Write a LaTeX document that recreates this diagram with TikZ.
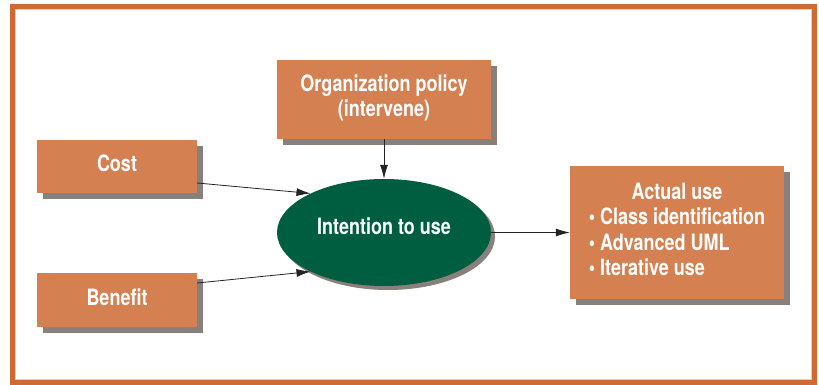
\documentclass[tikz,border=0pt]{standalone}
\usepackage{fontspec}
\setmainfont{TeX Gyre Heros}[FakeStretch=0.8]
\usetikzlibrary{shapes.geometric,arrows.meta,shadows}
\definecolor{boxfill}{RGB}{213,128,81}
\definecolor{shade}{RGB}{135,128,125}
\definecolor{frameorange}{RGB}{207,106,50}
\definecolor{framelight}{RGB}{245,200,175}
\definecolor{ovalgreen}{RGB}{0,94,64}
\definecolor{linegray}{RGB}{35,35,35}
\tikzset{
  boxtext/.style={font=\bfseries\fontsize{22.5}{25.3}\selectfont, text=white, align=center},
  factor/.style={boxtext, rectangle, fill=boxfill, inner sep=0pt,
    drop shadow={shadow xshift=6pt, shadow yshift=-6pt, fill=shade, opacity=1}},
  oval/.style={boxtext, ellipse, fill=ovalgreen, inner sep=0pt,
    drop shadow={shadow xshift=4pt, shadow yshift=-4pt, fill=shade, opacity=1}},
  link/.style={draw=linegray, line width=0.8pt, -{Latex[length=14pt,width=8pt]}}
}
\begin{document}
\begin{tikzpicture}[x=1pt,y=-1pt]
\useasboundingbox (0,0) rectangle (819,385);
% outer frame
\draw[draw=frameorange, line width=5pt] (12.5,6.5) rectangle (814.5,382.5);
\draw[draw=framelight, line width=0.8pt] (15.4,9.4) rectangle (811.6,379.6);

% factors
\node[factor, minimum width=160pt, minimum height=53pt, text depth=6pt] (cost) at (117,166.5) {Cost};
\node[factor, minimum width=160pt, minimum height=54pt, text depth=6pt] (benefit) at (117,300) {Benefit};
\node[factor, minimum width=214pt, minimum height=79pt, text depth=8pt] (policy) at (384,99.5)
  {Organization policy\\(intervene)};
\node[oval, minimum width=214pt, minimum height=107pt, text depth=12pt] (intent) at (384,232.5) {Intention to use};
\node[factor, minimum width=214pt, minimum height=133pt] (actual) at (677,232.5)
  {\begin{tabular}{@{}l@{}}\multicolumn{1}{@{}c@{}}{Actual use}\\
   \textbullet\ Class identification\\
   \textbullet\ Advanced UML\\
   \textbullet\ Iterative use\end{tabular}};

% influences
\draw[link] (cost.east |- 0,183) -- (intent.152);
\draw[link] (benefit.east |- 0,283) -- (intent.208);
\draw[link] (policy.south) -- (intent.north);
\draw[link] (intent.east) -- (actual.west |- intent.east);
\end{tikzpicture}
\end{document}
